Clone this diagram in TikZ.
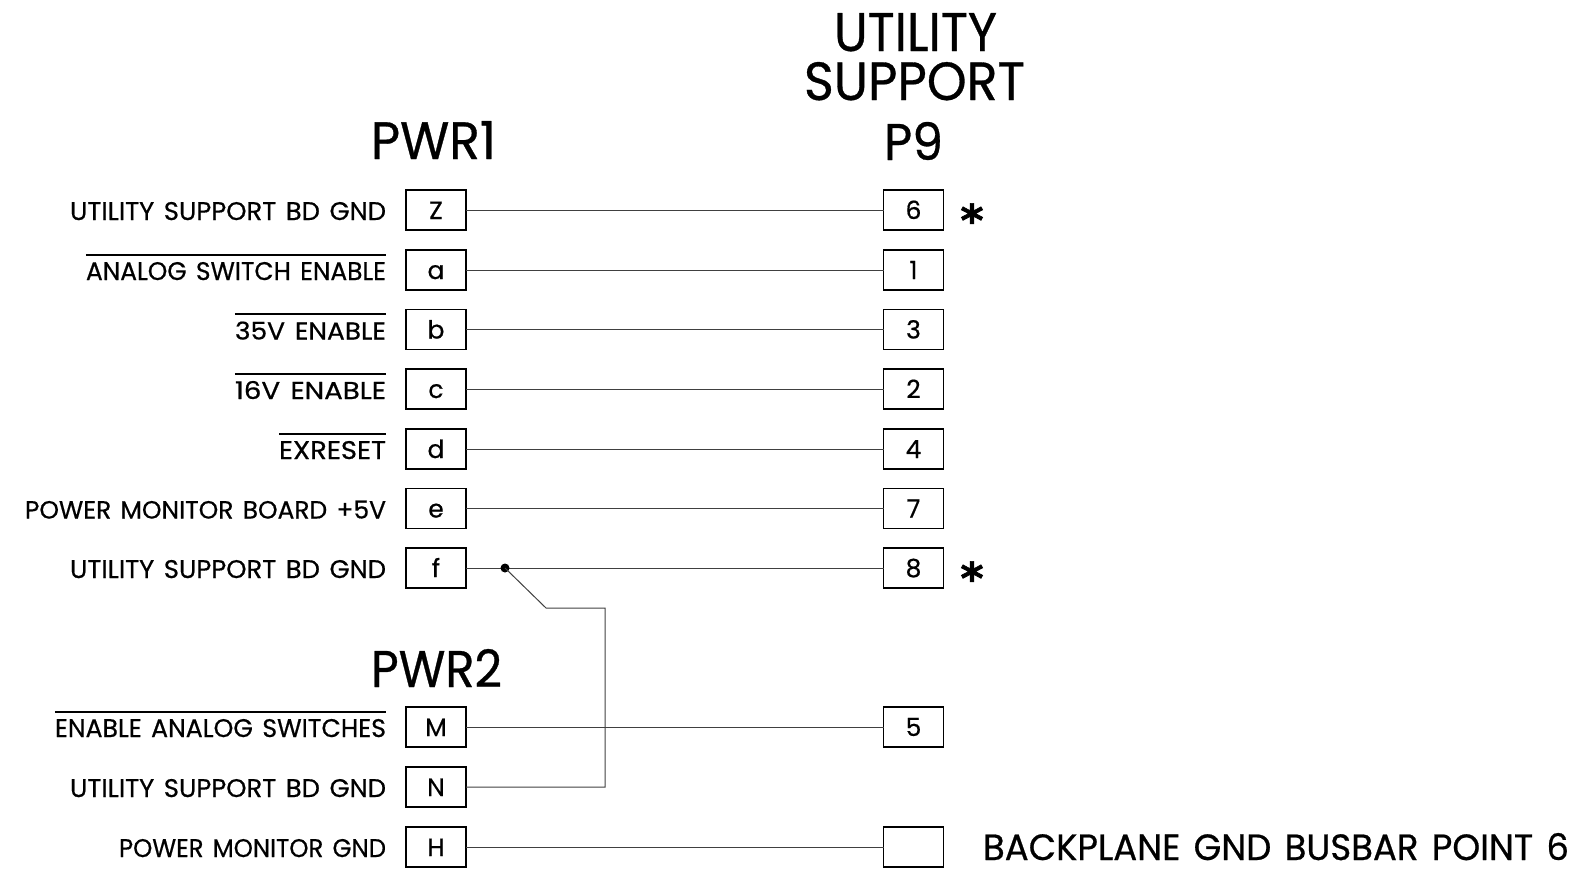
\documentclass[tikz,border=0pt]{standalone}
\usepackage{fontspec}
\usepackage{graphicx}
\setmainfont[WordSpace=1.4,FakeBold=0.6]{Poppins}
\newfontfamily\starfont[FakeBold=1.5]{DejaVu Sans Bold}
\newcommand{\fitcap}[3]{\resizebox{#1pt}{#2pt}{\fontsize{30pt}{34pt}\selectfont #3}}
\newcommand{\lbl}[2]{\fitcap{#1}{18}{#2}}
\newcommand{\ovl}[1]{\vbox{\hrule height 1.6pt\kern 6.5pt\hbox{#1}}}
\tikzset{
  x=1pt,y=-1pt,
  pinbox/.style={draw=black,line width=1.6pt,minimum width=60pt,minimum height=40pt,inner sep=0pt,outer sep=0pt,text height=18pt,text depth=0pt,font=\fontsize{25pt}{30pt}\selectfont},
  sig/.style={anchor=base east,inner sep=0pt,outer sep=0pt},
  title/.style={anchor=base,inner sep=0pt,outer sep=0pt},
  wire/.style={draw=black!75,line width=1pt},
  star/.style={anchor=base,inner sep=0pt,outer sep=0pt,font=\starfont\fontsize{44pt}{44pt}\selectfont},
  junction/.style={circle,fill=black,inner sep=0pt,minimum size=9pt},
}
\begin{document}
\begin{tikzpicture}
\useasboundingbox (0,0) rectangle (1585,868);
% titles
\node[title] (tu) at (915.5,51) {\fitcap{163}{38}{UTILITY}};
\node[title] (ts) at (914.5,100) {\fitcap{221}{38}{SUPPORT}};
\node[title] (tp9) at (913.5,160) {\fitcap{59}{38}{P9}};
\node[title] (tp1) at (433.5,159) {\fitcap{125}{38}{PWR1}};
\node[title] (tp2) at (436.5,687) {\fitcap{131}{38}{PWR2}};
% left pins
\node[pinbox] (Z) at (436,210) {Z};
\node[pinbox] (a) at (436,270) {a};
\node[pinbox] (b) at (436,329.5) {b};
\node[pinbox] (c) at (436,389) {c};
\node[pinbox] (d) at (436,449) {d};
\node[pinbox] (e) at (436,508.5) {e};
\node[pinbox] (f) at (436,568) {f};
\node[pinbox] (M) at (436,727) {M};
\node[pinbox] (N) at (436,787) {N};
\node[pinbox] (H) at (436,847) {H};
% right pins
\node[pinbox] (p6) at (913.5,210) {6};
\node[pinbox] (p1) at (913.5,270) {1};
\node[pinbox] (p3) at (913.5,329.5) {3};
\node[pinbox] (p2) at (913.5,389) {2};
\node[pinbox] (p4) at (913.5,449) {4};
\node[pinbox] (p7) at (913.5,508.5) {7};
\node[pinbox] (p8) at (913.5,568) {8};
\node[pinbox] (p5) at (913.5,727) {5};
\node[pinbox] (pb) at (913.5,847) {};
% signal labels
\node[sig] (lZ) at (386,220) {\lbl{316}{UTILITY SUPPORT BD GND}};
\node[sig] (la) at (386,280) {\ovl{\lbl{300}{ANALOG SWITCH ENABLE}}};
\node[sig] (lb) at (386,339.5) {\ovl{\lbl{151}{35V ENABLE}}};
\node[sig] (lc) at (386,399) {\ovl{\lbl{151}{16V ENABLE}}};
\node[sig] (ld) at (386,459) {\ovl{\lbl{107}{EXRESET}}};
\node[sig] (le) at (386,518.5) {\lbl{361}{POWER MONITOR BOARD +5V}};
\node[sig] (lf) at (386,578) {\lbl{316}{UTILITY SUPPORT BD GND}};
\node[sig] (lM) at (386,737) {\ovl{\lbl{331}{ENABLE ANALOG SWITCHES}}};
\node[sig] (lN) at (386,797) {\lbl{316}{UTILITY SUPPORT BD GND}};
\node[sig] (lH) at (386,857) {\lbl{267}{POWER MONITOR GND}};
\node[title,anchor=base west] (lbus) at (983,860) {\fitcap{586}{27}{BACKPLANE GND BUSBAR POINT 6}};
% asterisks
\node[star] (s6) at (972,236) {*};
\node[star] (s8) at (972,594) {*};
% wires
\draw[wire] (Z) -- (p6);
\draw[wire] (a) -- (p1);
\draw[wire] (b) -- (p3);
\draw[wire] (c) -- (p2);
\draw[wire] (d) -- (p4);
\draw[wire] (e) -- (p7);
\draw[wire] (f) -- (p8);
\draw[wire] (M) -- (p5);
\draw[wire] (H) -- (pb);
\node[junction] (j) at (505,568) {};
\coordinate (k1) at (546,608);
\coordinate (k2) at (605,608);
\coordinate (k3) at (605,787);
\draw[wire] (j.center) -- (k1) -- (k2) -- (k3) -- (N);
\end{tikzpicture}
\end{document}
